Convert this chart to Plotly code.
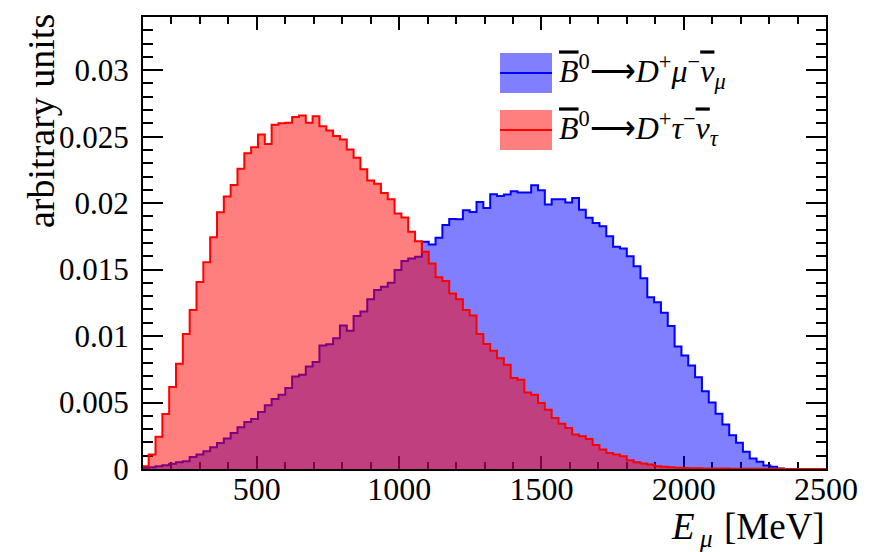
import plotly.graph_objects as go

# Histogram binning (MeV): 24 MeV wide bins, edges at multiples of 24
bin_start = 96
bin_width = 24
n_bins = 101

# B0 -> D+ mu- nubar_mu  (blue)
mu_values = [
    0.00010, 0.00014, 0.00020, 0.00029, 0.00039, 0.00051, 0.00059, 0.00091, 0.00109, 0.00134,
    0.00164, 0.00196, 0.00229, 0.00271, 0.00314, 0.00354, 0.00376, 0.00429, 0.00479, 0.00526,
    0.00559, 0.00609, 0.00696, 0.00709, 0.00771, 0.00804, 0.00929, 0.00939, 0.00984, 0.01079,
    0.01039, 0.01151, 0.01184, 0.01276, 0.01346, 0.01371, 0.01401, 0.01496, 0.01564, 0.01584,
    0.01596, 0.01709, 0.01689, 0.01740, 0.01836, 0.01880, 0.01879, 0.01946, 0.01934, 0.02009,
    0.01964, 0.02066, 0.02054, 0.02064, 0.02089, 0.02079, 0.02079, 0.02134, 0.02096, 0.01989,
    0.02029, 0.02029, 0.02004, 0.02039, 0.01951, 0.01889, 0.01851, 0.01826, 0.01751, 0.01671,
    0.01659, 0.01601, 0.01526, 0.01434, 0.01291, 0.01254, 0.01176, 0.01076, 0.00921, 0.00854,
    0.00779, 0.00691, 0.00584, 0.00501, 0.00416, 0.00334, 0.00254, 0.00198, 0.00130, 0.00079,
    0.00054, 0.00026, 0.00016, 0.00004, 0.0, 0.0, 0.0, 0.0, 0.0, 0.0, 0.0,
]

# B0 -> D+ tau- nubar_tau  (red)
tau_values = [
    0.00020, 0.00109, 0.00242, 0.00414, 0.00617, 0.00791, 0.01016, 0.01196, 0.01406, 0.01556,
    0.01744, 0.01931, 0.02049, 0.02136, 0.02259, 0.02376, 0.02421, 0.02516, 0.02444, 0.02589,
    0.02601, 0.02604, 0.02648, 0.02659, 0.02604, 0.02654, 0.02579, 0.02546, 0.02504, 0.02479,
    0.02404, 0.02341, 0.02254, 0.02171, 0.02146, 0.02076, 0.02029, 0.01921, 0.01891, 0.01784,
    0.01714, 0.01634, 0.01546, 0.01443, 0.01415, 0.01321, 0.01276, 0.01196, 0.01154, 0.01016,
    0.00941, 0.00889, 0.00834, 0.00784, 0.00684, 0.00671, 0.00576, 0.00559, 0.00496, 0.00446,
    0.00384, 0.00341, 0.00309, 0.00259, 0.00246, 0.00226, 0.00181, 0.00146, 0.00121, 0.00109,
    0.00096, 0.00066, 0.00051, 0.00041, 0.00034, 0.00021, 0.00016, 0.00014, 0.00010, 0.00008,
    0.00006, 0.00005, 0.00004, 0.00004, 0.00003, 0.00003, 0.00002, 0.00002, 0.00002, 0.00001,
    0.00001, 0.00001, 0.00001, 0.00001, 0.0, 0.0, 0.0, 0.0, 0.0, 0.0, 0.0,
]

x_tick_vals = [500, 1000, 1500, 2000, 2500]
y_tick_vals = [0, 0.005, 0.01, 0.015, 0.02, 0.025, 0.03]
y_tick_text = ["0", "0.005", "0.01", "0.015", "0.02", "0.025", "0.03"]

OV = '<span style="text-decoration:overline">'
legend_labels = [
    OV + "<i>B</i></span><sup>0</sup>\u27f6<i>D</i><sup>+</sup><i>\u03bc</i><sup>\u2212</sup>"
    + OV + "<i>\u03bd</i></span><sub><i>\u03bc</i></sub>",
    OV + "<i>B</i></span><sup>0</sup>\u27f6<i>D</i><sup>+</sup><i>\u03c4</i><sup>\u2212</sup>"
    + OV + "<i>\u03bd</i></span><sub><i>\u03c4</i></sub>",
]

edges = [bin_start + bin_width * i for i in range(n_bins + 1)]

SERIF = "Liberation Serif"


def step(vals):
    return edges, list(vals) + [vals[-1]]


fig = go.Figure()
for vals, lc, fc in [
    (mu_values, "rgb(0,0,255)", "rgba(0,0,255,0.5)"),
    (tau_values, "rgb(255,0,0)", "rgba(255,0,0,0.5)"),
]:
    xs, ys = step(vals)
    fig.add_trace(go.Scatter(
        x=xs, y=ys, mode="lines", line=dict(shape="hv", color=lc, width=2),
        fill="tozeroy", fillcolor=fc, showlegend=False, hoverinfo="skip",
    ))

L, R, T, B = 143, 54, 17, 83
W, H = 880, 552
pw, ph = W - L - R, H - T - B


def px2paper(px, py):
    return (px - L) / pw, (H - B - py) / ph


# Manual ROOT-style legend
legend_rows = [
    (legend_labels[0], "rgb(0,0,255)", "rgba(0,0,255,0.5)", 53, 93),
    (legend_labels[1], "rgb(255,0,0)", "rgba(255,0,0,0.5)", 110, 150),
]
for text, lc, fc, ytop, ybot in legend_rows:
    x0, y0 = px2paper(500, ybot)
    x1, y1 = px2paper(552, ytop)
    fig.add_shape(type="rect", xref="paper", yref="paper", x0=x0, x1=x1, y0=y0, y1=y1,
                  fillcolor=fc, line=dict(width=0), layer="above")
    ym = (y0 + y1) / 2
    fig.add_shape(type="line", xref="paper", yref="paper", x0=x0, x1=x1, y0=ym, y1=ym,
                  line=dict(color=lc, width=2), layer="above")
    tx, _ = px2paper(557, 0)
    fig.add_annotation(xref="paper", yref="paper", x=tx, y=ym + 0.004, xanchor="left",
                       yanchor="middle", text=text, showarrow=False,
                       font=dict(family=SERIF, size=32, color="black"))

# X axis title (ROOT style: right aligned), built from three pieces
xt_parts = [
    ("<i>E</i>", 37, 669, 504, "left", "top"),
    ("<i>\u03bc</i>", 25, 697, 538, "left", "middle"),
    ("[MeV]", 37, 827, 504, "right", "top"),
]
for txt, sz, px, py, xa, ya in xt_parts:
    ax, ay = px2paper(px, py)
    fig.add_annotation(xref="paper", yref="paper", x=ax, y=ay, xanchor=xa, yanchor=ya,
                       text=txt, showarrow=False,
                       font=dict(family=SERIF, size=sz, color="black"))

tx, ty = px2paper(41, 12)
fig.add_annotation(xref="paper", yref="paper", x=tx, y=ty, xanchor="center", yanchor="top",
                   text="arbitrary units", textangle=-90, showarrow=False,
                   font=dict(family=SERIF, size=38, color="black"))

axis_common = dict(
    showline=True, linecolor="black", linewidth=2, mirror="allticks",
    ticks="inside", tickcolor="black", tickwidth=1.5,
    showgrid=False, zeroline=False, layer="below traces",
)

fig.update_xaxes(
    range=[100, 2500], tickvals=x_tick_vals, ticklen=13,
    minor=dict(dtick=100, tick0=0, ticks="inside", ticklen=7, tickcolor="black", tickwidth=1.5),
    ticklabelstandoff=-9,
    tickfont=dict(family=SERIF, size=32, color="black"),
    **axis_common,
)
fig.update_yaxes(
    range=[0, 0.034], tickvals=y_tick_vals, ticktext=y_tick_text, ticklen=20,
    minor=dict(dtick=0.001, tick0=0, ticks="inside", ticklen=10, tickcolor="black", tickwidth=1.5),
    ticklabelstandoff=6,
    tickfont=dict(family=SERIF, size=31, color="black"),
    **axis_common,
)

fig.update_layout(
    width=W, height=H, margin=dict(l=L, r=R, t=T, b=B),
    plot_bgcolor="white", paper_bgcolor="white",
    showlegend=False,
)

fig.write_html("out.html")
